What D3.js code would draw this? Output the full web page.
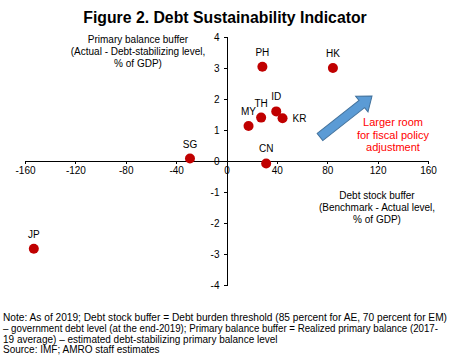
<!DOCTYPE html>
<html lang="en">
<head>
<meta charset="utf-8">
<script src="https://cdn.jsdelivr.net/npm/d3@7"></script>
<style>
  body { margin: 0; background: #fff; }
  svg { font-family: Arial, "Liberation Sans", sans-serif; }
  .axis path, .axis line { stroke: #000; stroke-width: 1; shape-rendering: crispEdges; }
  .axis text { font-size: 10px; fill: #000; }
</style>
</head>
<body>
<svg id="chart" width="450" height="361"></svg>
<script>
// economies, debt stock buffer (x) and primary balance buffer (y)
var economies = ["PH", "HK", "ID", "KR", "TH", "MY", "SG", "CN", "JP"];
var debtBuffer = [28.5, 84.5, 39.5, 44.5, 27.5, 17.5, -29, 31.5, -153];
var pbBuffer = [3.04, 3.0, 1.6, 1.38, 1.4, 1.13, 0.08, -0.08, -2.83];
var labelSide = ["top", "top", "top", "right", "top", "top", "top", "top", "top"];

var xTicks = [-160, -120, -80, -40, 0, 40, 80, 120, 160];
var yTicks = [-4, -3, -2, -1, 0, 1, 2, 3, 4];

var noteLines = [
  "Note: As of 2019; Debt stock buffer = Debt burden threshold (85 percent for AE, 70 percent for EM)",
  "\u2013 government debt level (at the end-2019); Primary balance buffer = Realized primary balance (2017-",
  "19 average) \u2013 estimated debt-stabilizing primary balance level",
  "Source: IMF; AMRO staff estimates"
];
var noteWidths = [444, 435, null, null];

var svg = d3.select("#chart");

var x = d3.scaleLinear().domain([-160, 160]).range([25, 428]);
var y = d3.scaleLinear().domain([-4, 4]).range([285, 37]);

// plain hyphen for negatives, like the original
var fmt = function(d) { return String(d); };

// title
svg.append("text")
  .attr("x", 225).attr("y", 23)
  .attr("text-anchor", "middle")
  .style("font-size", "15.8px").style("font-weight", "bold")
  .text("Figure 2. Debt Sustainability Indicator");

// x axis through y = 0
svg.append("g")
  .attr("class", "axis")
  .attr("transform", "translate(0," + y(0) + ")")
  .call(d3.axisBottom(x).tickValues(xTicks).tickFormat(fmt).tickSize(3).tickSizeOuter(3).tickPadding(3));

// y axis through x = 0
svg.append("g")
  .attr("class", "axis")
  .attr("transform", "translate(" + x(0) + ",0)")
  .call(d3.axisLeft(y).tickValues(yTicks).tickFormat(fmt).tickSize(3).tickSizeOuter(3).tickPadding(4));

// axis titles
var yTitle = ["Primary balance buffer", "(Actual - Debt-stabilizing level,", "% of GDP)"];
svg.append("text")
  .attr("text-anchor", "middle")
  .style("font-size", "10px")
  .selectAll("tspan").data(yTitle).join("tspan")
  .attr("x", 138)
  .attr("y", function(d, i) { return 43 + i * 12; })
  .text(function(d) { return d; });

var xTitle = ["Debt stock buffer", "(Benchmark - Actual level,", "% of GDP)"];
svg.append("text")
  .attr("text-anchor", "middle")
  .style("font-size", "10px")
  .selectAll("tspan").data(xTitle).join("tspan")
  .attr("x", 377)
  .attr("y", function(d, i) { return 199 + i * 12; })
  .text(function(d) { return d; });

// arrow
var ax0 = 320, ay0 = 137, ax1 = 372, ay1 = 96;
var ang = Math.atan2(ay1 - ay0, ax1 - ax0);
var len = Math.hypot(ax1 - ax0, ay1 - ay0);
var shaft = 4.5, head = 10, headLen = 13;
svg.append("path")
  .attr("transform", "translate(" + ax0 + "," + ay0 + ") rotate(" + (ang * 180 / Math.PI) + ")")
  .attr("d", "M0," + (-shaft) + "L" + (len - headLen) + "," + (-shaft) +
             "L" + (len - headLen) + "," + (-head) + "L" + len + ",0" +
             "L" + (len - headLen) + "," + head + "L" + (len - headLen) + "," + shaft +
             "L0," + shaft + "Z")
  .style("fill", "#5b9bd5")
  .style("stroke", "#41719c")
  .style("stroke-width", 1);

var roomText = ["Larger room", "for fiscal policy", "adjustment"];
svg.append("text")
  .attr("text-anchor", "middle")
  .style("font-size", "11px")
  .style("fill", "#ff0000")
  .selectAll("tspan").data(roomText).join("tspan")
  .attr("x", 393)
  .attr("y", function(d, i) { return 126 + i * 12.5; })
  .text(function(d) { return d; });

// points
var pts = economies.map(function(c, i) {
  return { name: c, x: debtBuffer[i], y: pbBuffer[i], side: labelSide[i] };
});

svg.append("g").selectAll("circle").data(pts).join("circle")
  .attr("cx", function(d) { return x(d.x); })
  .attr("cy", function(d) { return y(d.y); })
  .attr("r", 5)
  .style("fill", "#c00000");

svg.append("g").selectAll("text").data(pts).join("text")
  .attr("x", function(d) { return d.side === "right" ? x(d.x) + 10 : x(d.x); })
  .attr("y", function(d) { return d.side === "right" ? y(d.y) + 4 : y(d.y) - 11; })
  .attr("text-anchor", function(d) { return d.side === "right" ? "start" : "middle"; })
  .style("font-size", "10px")
  .text(function(d) { return d.name; });

// note, one text per line so long lines can be fitted
svg.append("g").selectAll("text").data(noteLines).join("text")
  .attr("x", 3)
  .attr("y", function(d, i) { return 321 + i * 10.8; })
  .style("font-size", "10px")
  .each(function(d, i) {
    if (noteWidths[i]) d3.select(this).attr("textLength", noteWidths[i]).attr("lengthAdjust", "spacingAndGlyphs");
  })
  .text(function(d) { return d; });
</script>
</body>
</html>
